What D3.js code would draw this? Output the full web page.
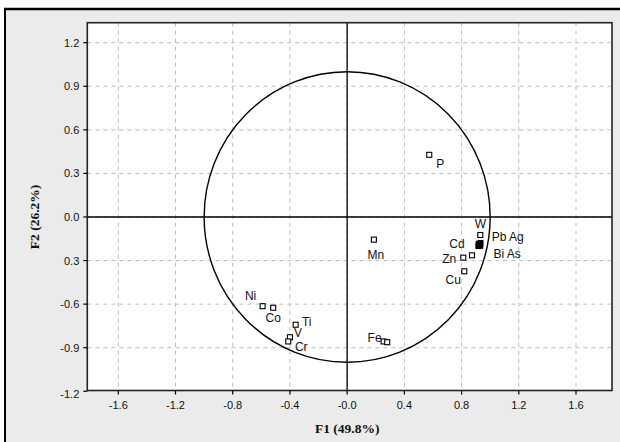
<!DOCTYPE html>
<html><head><meta charset="utf-8">
<script src="https://cdn.jsdelivr.net/npm/d3@7"></script>
<style>body{margin:0;background:#fff}svg{display:block}</style>
</head><body><svg id="c" width="620" height="442"></svg>
<script>
// ---- data ----
const xTicks = [-1.6, -1.2, -0.8, -0.4, 0.0, 0.4, 0.8, 1.2, 1.6];
const xTickLabels = ["-1.6", "-1.2", "-0.8", "-0.4", "-0.0", "0.4", "0.8", "1.2", "1.6"];
const yTicks = [1.2, 0.9, 0.6, 0.3, 0.0, -0.3, -0.6, -0.9, -1.2];
const yTickLabels = ["1.2", "0.9", "0.6", "0.3", "0.0", "0.3", "-0.6", "-0.9", "-1.2"];
const variables = ["P", "Mn", "W", "Cd", "Zn", "Cu", "Ni", "Co", "Ti", "V", "Cr", "Fe", "", "Pb", "Ag", "Bi", "As"];
const f1 = [0.574, 0.187, 0.931, 0.873, 0.812, 0.819, -0.591, -0.517, -0.360, -0.400, -0.412, 0.255, 0.280, 0.920, 0.932, 0.918, 0.930];
const f2 = [0.428, -0.156, -0.124, -0.264, -0.280, -0.374, -0.614, -0.625, -0.742, -0.828, -0.857, -0.857, -0.862, -0.185, -0.180, -0.200, -0.198];
const filled = [0, 0, 0, 0, 0, 0, 0, 0, 0, 0, 0, 0, 0, 1, 1, 1, 1];
const xTitle = "F1 (49.8%)";
const yTitle = "F2 (26.2%)";
const groupLabels = ["Pb Ag", "Bi As"];

// ---- layout ----
const L = 87.3, R = 612, T = 22.7, B = 390.5;
const x = d3.scaleLinear().domain([-1.6, 1.6]).range([118.3, 576]);
const y = d3.scaleLinear().domain([1.2, -0.9]).range([42.7, 347.7]);
// label offsets (pixels) for each variable label
const labelOffsets = {P:[11,9],Mn:[2,15],W:[0,-11],Cd:[-15,-11],Zn:[-14,1],Cu:[-11,9],Ni:[-12,-10],Co:[0,10],Ti:[11,-3],V:[8,-4],Cr:[13,6],Fe:[-9,-3]};

const svg = d3.select("#c");
// outer frame
svg.append("rect").attr("x",5).attr("y",9).attr("width",620).attr("height",440).attr("fill","#ebebeb");
svg.append("line").attr("x1",4).attr("x2",620).attr("y1",9).attr("y2",9).attr("stroke","#000").attr("stroke-width",2.5);
svg.append("line").attr("x1",5).attr("x2",5).attr("y1",8).attr("y2",442).attr("stroke","#000").attr("stroke-width",2);

// plot area
svg.append("rect").attr("x",L).attr("y",T).attr("width",R-L).attr("height",B-T).attr("fill","#fff");
svg.append("clipPath").attr("id","pc").append("rect").attr("x",L).attr("y",T).attr("width",R-L).attr("height",B-T);
const g = svg.append("g").attr("clip-path","url(#pc)");

// grid
g.selectAll(".gx").data(xTicks).join("line")
  .attr("x1",d=>x(d)).attr("x2",d=>x(d)).attr("y1",T).attr("y2",B)
  .attr("stroke","#bdbdbd").attr("stroke-dasharray","4,4").attr("stroke-width",1);
g.selectAll(".gy").data(yTicks).join("line")
  .attr("x1",L).attr("x2",R).attr("y1",d=>y(d)).attr("y2",d=>y(d))
  .attr("stroke","#bdbdbd").attr("stroke-dasharray","4,4").attr("stroke-width",1);

// zero axes
g.append("line").attr("x1",x(0)).attr("x2",x(0)).attr("y1",T).attr("y2",B).attr("stroke","#000").attr("stroke-width",1.3);
g.append("line").attr("x1",L).attr("x2",R).attr("y1",y(0)).attr("y2",y(0)).attr("stroke","#000").attr("stroke-width",1.3);

// correlation circle
g.append("ellipse").attr("cx",x(0)).attr("cy",y(0))
  .attr("rx",x(1)-x(0)).attr("ry",y(-1)-y(0))
  .attr("fill","none").attr("stroke","#000").attr("stroke-width",1.4);

// points
const s = 5;
g.selectAll(".pt").data(f1.map((v,i)=>i)).join("rect")
  .attr("x",i=>x(f1[i])-s/2).attr("y",i=>y(f2[i])-s/2)
  .attr("width",s).attr("height",s)
  .attr("fill",i=>filled[i]?"#000":"#fff")
  .attr("stroke","#000").attr("stroke-width",1.1);

// labels
const lab = svg.append("g").attr("font-family","Arial, 'Liberation Sans', sans-serif").attr("font-size",12).attr("fill","#111");
variables.forEach((v,i)=>{
  if(!labelOffsets[v]) return;
  const o = labelOffsets[v];
  lab.append("text").attr("x",x(f1[i])+o[0]).attr("y",y(f2[i])+o[1])
    .attr("text-anchor","middle").attr("dominant-baseline","central").text(v);
});
const pbI = variables.indexOf("Pb"), biI = variables.indexOf("Bi");
lab.append("text").attr("x",x(f1[pbI])+13).attr("y",y(f2[pbI])-7).attr("dominant-baseline","central").text(groupLabels[0]);
lab.append("text").attr("x",x(f1[biI])+15).attr("y",y(f2[biI])+8).attr("dominant-baseline","central").text(groupLabels[1]);

// plot border
svg.append("rect").attr("x",L).attr("y",T).attr("width",R-L).attr("height",B-T)
  .attr("fill","none").attr("stroke","#222").attr("stroke-width",1.6);

// ticks + tick labels
const ax = svg.append("g").attr("font-family","Arial, 'Liberation Sans', sans-serif").attr("font-size",11).attr("fill","#111");
xTicks.forEach((t,i)=>{
  ax.append("line").attr("x1",x(t)).attr("x2",x(t)).attr("y1",B).attr("y2",B+4).attr("stroke","#000").attr("stroke-width",1.2);
  ax.append("text").attr("x",x(t)).attr("y",B+14).attr("text-anchor","middle").attr("dominant-baseline","central").text(xTickLabels[i]);
});
yTicks.forEach((t,i)=>{
  ax.append("line").attr("x1",L-4).attr("x2",L).attr("y1",y(t)).attr("y2",y(t)).attr("stroke","#000").attr("stroke-width",1.2);
  ax.append("text").attr("x",L-8).attr("y",y(t)+(t===-1.2?3:0)).attr("text-anchor","end").attr("dominant-baseline","central").text(yTickLabels[i]);
});

// axis titles
svg.append("text").attr("x",x(0)).attr("y",428).attr("text-anchor","middle").attr("dominant-baseline","central")
  .attr("font-family","'Liberation Serif','Times New Roman',serif").attr("font-weight","bold").attr("font-size",13.5).attr("fill","#111").text(xTitle);
svg.append("text").attr("transform",`translate(34,${y(0)}) rotate(-90)`).attr("text-anchor","middle").attr("dominant-baseline","central")
  .attr("font-family","'Liberation Serif','Times New Roman',serif").attr("font-weight","bold").attr("font-size",13.5).attr("fill","#111").text(yTitle);
</script></body></html>
